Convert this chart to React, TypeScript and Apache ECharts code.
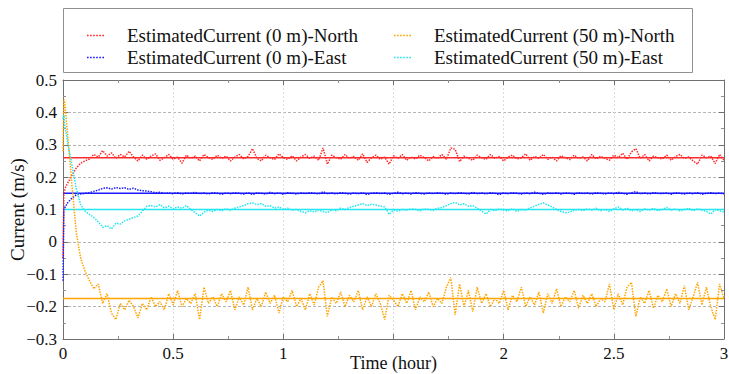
import React, { useEffect, useRef } from "react";
import * as echarts from "echarts";

const N0N = "EstimatedCurrent (0 m)-North";
const N0E = "EstimatedCurrent (0 m)-East";
const N50N = "EstimatedCurrent (50 m)-North";
const N50E = "EstimatedCurrent (50 m)-East";

// time (hour): early transient samples, then every 0.02 h
const tEarly = [0, 0.004, 0.008, 0.012, 0.016];
const tSteady: number[] = [];
for (let k = 1; k <= 150; k++) tSteady.push(+(k * 0.02).toFixed(2));
const time = tEarly.concat(tSteady);

const red0 = [
  -0.05, 0.15, 0.16, 0.17, 0.175,
  0.18, 0.205, 0.228, 0.243, 0.25, 0.256, 0.27, 0.262, 0.282, 0.265,
  0.275, 0.258, 0.27, 0.262, 0.28,
  0.262, 0.25, 0.268, 0.255, 0.265, 0.272, 0.252, 0.26, 0.27, 0.255,
  0.262, 0.243, 0.268, 0.258, 0.265, 0.25, 0.27, 0.26, 0.255, 0.268,
  0.258, 0.265, 0.25, 0.262, 0.27, 0.256, 0.264, 0.288, 0.258, 0.25,
  0.268, 0.26, 0.254, 0.272, 0.26, 0.255, 0.266, 0.25, 0.262, 0.27,
  0.258, 0.265, 0.252, 0.29, 0.24, 0.268, 0.26, 0.255, 0.27, 0.258,
  0.264, 0.252, 0.272, 0.245, 0.26, 0.268, 0.255, 0.262, 0.24, 0.266,
  0.258, 0.27, 0.252, 0.262, 0.256, 0.268, 0.26, 0.25, 0.264, 0.258,
  0.27, 0.255, 0.29, 0.286, 0.248, 0.265, 0.258, 0.252, 0.268, 0.26,
  0.255, 0.27, 0.258, 0.264, 0.25, 0.262, 0.268, 0.256, 0.26, 0.272,
  0.252, 0.264, 0.258, 0.27, 0.255, 0.262, 0.25, 0.266, 0.26, 0.254,
  0.268, 0.258, 0.262, 0.25, 0.27, 0.256, 0.264, 0.258, 0.252, 0.268,
  0.26, 0.274, 0.255, 0.278, 0.288, 0.258, 0.27, 0.25, 0.265, 0.26,
  0.256, 0.268, 0.252, 0.264, 0.27, 0.258, 0.262, 0.25, 0.24, 0.268,
  0.26, 0.265, 0.242, 0.27, 0.252,
];

const blue0 = [
  -0.12, 0.1, 0.105, 0.11, 0.115,
  0.12, 0.135, 0.145, 0.148, 0.15, 0.152, 0.156, 0.16, 0.165, 0.167,
  0.163, 0.168, 0.165, 0.167, 0.162, 0.166, 0.16, 0.158, 0.157, 0.155,
  0.152, 0.153, 0.15, 0.151, 0.149, 0.152, 0.148, 0.151, 0.15, 0.153,
  0.149, 0.151, 0.148, 0.152, 0.15, 0.147, 0.151, 0.149, 0.152, 0.15,
  0.148, 0.152, 0.146, 0.151, 0.15, 0.148, 0.153, 0.149, 0.151, 0.147,
  0.152, 0.15, 0.148, 0.151, 0.149, 0.152, 0.15, 0.148, 0.155, 0.149,
  0.151, 0.148, 0.152, 0.15, 0.147, 0.151, 0.149, 0.152, 0.146, 0.15,
  0.152, 0.149, 0.151, 0.147, 0.15, 0.153, 0.149, 0.151, 0.148, 0.152,
  0.15, 0.148, 0.151, 0.149, 0.152, 0.15, 0.147, 0.151, 0.149, 0.152,
  0.15, 0.148, 0.153, 0.149, 0.151, 0.148, 0.152, 0.15, 0.146, 0.151,
  0.149, 0.152, 0.15, 0.148, 0.151, 0.149, 0.153, 0.15, 0.147, 0.151,
  0.149, 0.152, 0.148, 0.151, 0.15, 0.147, 0.152, 0.149, 0.151, 0.148,
  0.152, 0.15, 0.148, 0.151, 0.149, 0.153, 0.15, 0.147, 0.152, 0.155,
  0.149, 0.151, 0.148, 0.152, 0.15, 0.149, 0.151, 0.147, 0.152, 0.15,
  0.148, 0.151, 0.149, 0.152, 0.147, 0.15, 0.152, 0.149, 0.151, 0.148,
];

const orange50 = [
  0.28, 0.44, 0.43, 0.4, 0.37,
  0.34, 0.18, 0.03, -0.05, -0.09, -0.12, -0.145, -0.13, -0.19, -0.16,
  -0.22, -0.24, -0.19, -0.21, -0.18,
  -0.2, -0.235, -0.19, -0.21, -0.17, -0.2, -0.185, -0.21, -0.16, -0.195,
  -0.15, -0.2, -0.175, -0.19, -0.16, -0.24, -0.14, -0.19, -0.17, -0.2,
  -0.16, -0.185, -0.15, -0.21, -0.17, -0.195, -0.14, -0.21, -0.175, -0.2,
  -0.155, -0.19, -0.165, -0.22, -0.17, -0.185, -0.15, -0.2, -0.175, -0.21,
  -0.16, -0.195, -0.14, -0.12, -0.23, -0.17, -0.19, -0.155, -0.2, -0.165,
  -0.185, -0.15, -0.21, -0.17, -0.2, -0.16, -0.19, -0.24, -0.165, -0.18,
  -0.2, -0.16, -0.19, -0.15, -0.21, -0.17, -0.185, -0.155, -0.2, -0.175,
  -0.19, -0.14, -0.11, -0.225, -0.13, -0.2, -0.15, -0.215, -0.14, -0.19,
  -0.16, -0.2, -0.175, -0.19, -0.15, -0.21, -0.165, -0.185, -0.14, -0.2,
  -0.17, -0.195, -0.155, -0.22, -0.16, -0.19, -0.145, -0.2, -0.17, -0.185,
  -0.15, -0.205, -0.165, -0.19, -0.16, -0.2, -0.175, -0.185, -0.13, -0.21,
  -0.16, -0.195, -0.14, -0.125, -0.23, -0.17, -0.19, -0.15, -0.205, -0.165,
  -0.185, -0.145, -0.2, -0.16, -0.19, -0.135, -0.21, -0.17, -0.125, -0.195,
  -0.14, -0.2, -0.24, -0.13, -0.175,
];

const cyan50 = [
  0.38, 0.392, 0.36, 0.345, 0.33,
  0.31, 0.24, 0.165, 0.115, 0.095, 0.085, 0.075, 0.062, 0.045, 0.05,
  0.04, 0.058, 0.055, 0.065, 0.07, 0.075, 0.08, 0.095, 0.11, 0.112,
  0.108, 0.115, 0.105, 0.11, 0.102, 0.108, 0.104, 0.112, 0.1, 0.09,
  0.08, 0.092, 0.098, 0.094, 0.1, 0.096, 0.102, 0.098, 0.104, 0.108,
  0.112, 0.118, 0.12, 0.115, 0.118, 0.11, 0.112, 0.104, 0.108, 0.1,
  0.104, 0.098, 0.1, 0.094, 0.09, 0.096, 0.092, 0.098, 0.094, 0.09,
  0.1, 0.096, 0.104, 0.1, 0.106, 0.11, 0.114, 0.118, 0.112, 0.116,
  0.114, 0.11, 0.108, 0.085, 0.098, 0.095, 0.1, 0.098, 0.102, 0.1,
  0.096, 0.102, 0.1, 0.098, 0.104, 0.106, 0.112, 0.118, 0.122, 0.114,
  0.118, 0.11, 0.112, 0.104, 0.095, 0.086, 0.1, 0.096, 0.102, 0.098,
  0.096, 0.102, 0.094, 0.1, 0.098, 0.105, 0.11, 0.116, 0.12, 0.114,
  0.108, 0.1, 0.094, 0.09, 0.092, 0.098, 0.1, 0.096, 0.102, 0.098,
  0.104, 0.096, 0.1, 0.094, 0.102, 0.108, 0.098, 0.104, 0.096, 0.1,
  0.094, 0.102, 0.098, 0.104, 0.096, 0.1, 0.106, 0.098, 0.102, 0.096,
  0.1, 0.104, 0.096, 0.102, 0.098, 0.094, 0.086, 0.1, 0.096, 0.092,
];

// true (reference) currents, drawn as solid horizontal lines
const trueRed = 0.26;
const trueBlue = 0.15;
const trueCyan = 0.1;
const trueOrange = -0.175;

const FONT = "Liberation Serif";
const RED = "#ff2a2a";
const BLUE = "#1a1aff";
const CYAN = "#22e6f0";
const ORANGE = "#ffa500";

// dotted legend icon
const DOTS =
  "path://M0,0h1.6v1.6h-1.6z M3,0h1.6v1.6h-1.6z M6,0h1.6v1.6h-1.6z M9,0h1.6v1.6h-1.6z M12,0h1.6v1.6h-1.6z M15,0h1.6v1.6h-1.6z";

function est(name: string, vals: number[], color: string) {
  return {
    name,
    type: "line",
    data: time.map((t, i) => [t, vals[i]]),
    showSymbol: false,
    symbol: "none",
    lineStyle: { color, width: 1.5, type: [1.5, 1.2] },
    itemStyle: { color },
    z: 3,
  };
}

function ref(name: string, v: number, color: string) {
  return {
    name,
    type: "line",
    data: [
      [0, v],
      [3, v],
    ],
    showSymbol: false,
    symbol: "none",
    lineStyle: { color, width: 1.5, type: "solid" },
    itemStyle: { color },
    z: 2,
  };
}

const fmtY = (v: number) => {
  const r = Math.round(v * 10) / 10;
  if (r === 0) return "0";
  return r < 0 ? "\u2212" + String(-r) : String(r);
};
const fmtX = (v: number) => {
  const r = Math.round(v * 10) / 10;
  if (r === 1.5) return "";
  return String(r);
};

export default function App() {
  const ref0 = useRef<HTMLDivElement>(null);
  useEffect(() => {
    if (!ref0.current) return;
    const chart = echarts.init(ref0.current, undefined, { renderer: "svg" });
    const axisLine = { show: true, onZero: false, lineStyle: { color: "#707070", width: 1 } };
    const tick = { show: true, inside: true, length: 5, lineStyle: { color: "#707070" } };
    const minor = { show: true, splitNumber: 2, length: 3, lineStyle: { color: "#909090" } };
    const legendCommon = {
      orient: "vertical",
      top: 21,
      icon: DOTS,
      itemWidth: 17,
      itemHeight: 2,
      itemGap: 3,
      textStyle: { fontFamily: FONT, fontSize: 19, color: "#111", padding: [0, 0, 0, 18] },
    };
    chart.setOption({
      animation: false,
      backgroundColor: "#ffffff",
      textStyle: { fontFamily: FONT },
      grid: {
        left: 63,
        right: 5,
        top: 80,
        bottom: 35,
        containLabel: false,
        outerBoundsMode: "none",
      },
      legend: [
        { ...legendCommon, data: [N0N, N0E], left: 82 },
        { ...legendCommon, data: [N50N, N50E], left: 389 },
      ],
      graphic: [
        {
          type: "rect",
          shape: { x: 63.5, y: 8.5, width: 629, height: 64 },
          style: { fill: "none", stroke: "#909090", lineWidth: 1 },
          z: -1,
        },
      ],
      xAxis: [
        {
          type: "value",
          min: 0,
          max: 3,
          interval: 0.5,
          name: "Time (hour)",
          nameLocation: "middle",
          nameGap: 15,
          nameMoveOverlap: false,
          nameTextStyle: { fontFamily: FONT, fontSize: 18, color: "#111" },
          axisLine,
          axisTick: tick,
          minorTick: minor,
          axisLabel: { fontFamily: FONT, fontSize: 17, color: "#111", margin: 6, formatter: fmtX },
          splitLine: { show: true, lineStyle: { color: "#dcdcdc", type: [2, 2], width: 1 } },
        },
        {
          type: "value",
          position: "top",
          min: 0,
          max: 3,
          interval: 0.5,
          axisLine,
          axisTick: tick,
          minorTick: minor,
          axisLabel: { show: false },
          splitLine: { show: false },
        },
      ],
      yAxis: [
        {
          type: "value",
          min: -0.3,
          max: 0.5,
          interval: 0.1,
          name: "Current (m/s)",
          nameLocation: "middle",
          nameGap: 36,
          nameMoveOverlap: false,
          nameTextStyle: { fontFamily: FONT, fontSize: 19, color: "#111" },
          axisLine,
          axisTick: tick,
          minorTick: minor,
          axisLabel: { fontFamily: FONT, fontSize: 17, color: "#111", margin: 6, formatter: fmtY },
          splitLine: { show: true, lineStyle: { color: "#b4b4b4", type: [3, 2], width: 1 } },
        },
        {
          type: "value",
          position: "right",
          min: -0.3,
          max: 0.5,
          interval: 0.1,
          axisLine,
          axisTick: tick,
          minorTick: minor,
          axisLabel: { show: false },
          splitLine: { show: false },
        },
      ],
      series: [
        ref("true-0m-North", trueRed, RED),
        ref("true-0m-East", trueBlue, BLUE),
        ref("true-50m-North", trueOrange, ORANGE),
        ref("true-50m-East", trueCyan, CYAN),
        est(N0N, red0, RED),
        est(N0E, blue0, BLUE),
        est(N50N, orange50, ORANGE),
        est(N50E, cyan50, CYAN),
      ],
    });
    return () => chart.dispose();
  }, []);
  return (
    <div
      ref={ref0}
      style={{ position: "fixed", left: 0, top: 0, width: 729, height: 374, background: "#fff" }}
    />
  );
}
